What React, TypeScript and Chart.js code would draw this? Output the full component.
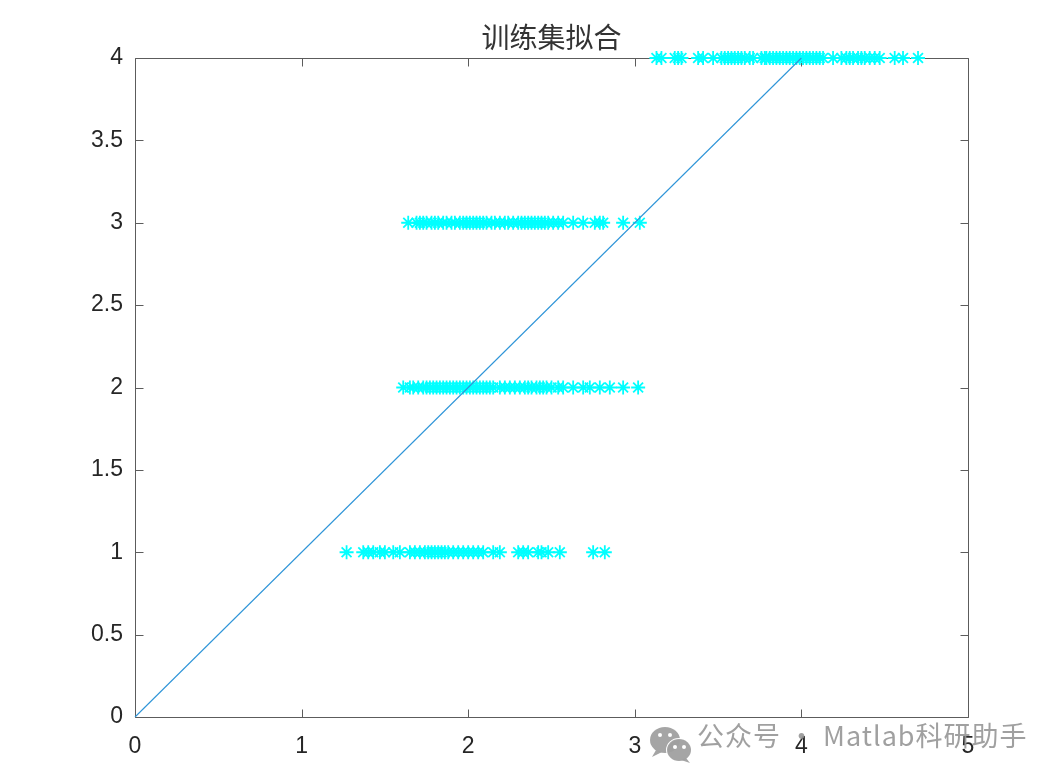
import React, { useEffect, useRef } from "react";
import { Chart, registerables } from "chart.js";

Chart.register(...registerables);

const titleText = "训练集拟合";
const watermarkText = "公众号 · Matlab科研助手";

const xTickValues = [0, 1, 2, 3, 4, 5];
const yTickValues = [0, 0.5, 1, 1.5, 2, 2.5, 3, 3.5, 4];

// fitted reference line y = x
const fitLineX = [0, 4];
const fitLineY = [0, 4];

// true class levels
const classLevels = [1, 2, 3, 4];

// predicted values for each true class
const class1X = [1.27, 1.37, 1.4, 1.43, 1.47, 1.5, 1.55, 1.59, 1.65, 1.68, 1.71, 1.74, 1.76, 1.78, 1.8, 1.82, 1.84, 1.86, 1.88, 1.91, 1.94, 1.97, 2.0, 2.03, 2.06, 2.09, 2.15, 2.19, 2.3, 2.33, 2.36, 2.42, 2.44, 2.48, 2.55, 2.75, 2.82];
const class2X = [1.61, 1.65, 1.67, 1.7, 1.73, 1.75, 1.77, 1.79, 1.81, 1.83, 1.85, 1.87, 1.89, 1.91, 1.93, 1.95, 1.97, 1.99, 2.01, 2.03, 2.05, 2.07, 2.09, 2.11, 2.13, 2.15, 2.19, 2.22, 2.25, 2.28, 2.31, 2.34, 2.36, 2.38, 2.41, 2.43, 2.45, 2.47, 2.5, 2.54, 2.57, 2.63, 2.69, 2.73, 2.79, 2.85, 2.93, 3.02];
const class3X = [1.64, 1.69, 1.71, 1.73, 1.75, 1.78, 1.8, 1.82, 1.85, 1.87, 1.9, 1.92, 1.95, 1.97, 1.99, 2.01, 2.03, 2.05, 2.07, 2.09, 2.11, 2.14, 2.16, 2.19, 2.22, 2.24, 2.27, 2.3, 2.32, 2.34, 2.36, 2.38, 2.4, 2.42, 2.44, 2.46, 2.48, 2.51, 2.54, 2.57, 2.63, 2.69, 2.76, 2.79, 2.81, 2.93, 3.03];
const class4X = [3.13, 3.16, 3.24, 3.26, 3.28, 3.38, 3.41, 3.47, 3.52, 3.54, 3.56, 3.58, 3.6, 3.62, 3.64, 3.66, 3.69, 3.71, 3.76, 3.78, 3.79, 3.81, 3.83, 3.85, 3.87, 3.89, 3.91, 3.93, 3.95, 3.97, 3.99, 4.01, 4.03, 4.05, 4.07, 4.09, 4.11, 4.13, 4.19, 4.24, 4.27, 4.29, 4.31, 4.34, 4.36, 4.38, 4.41, 4.44, 4.47, 4.56, 4.61, 4.7];

const classXs = [class1X, class2X, class3X, class4X];

const AXIS_COLOR = "#5c5c5c";
const TEXT_COLOR = "#262626";
const TICK_FONT = "'Liberation Sans', Arial, sans-serif";

const framePlugin = {
  id: "matlabFrame",
  beforeDatasetsDraw(chart: any) {
    const { ctx, chartArea, scales } = chart;
    const { left, right, top, bottom } = chartArea;
    const L = Math.round(left) + 0.5;
    const R = Math.round(right) + 0.5;
    const T = Math.round(top) + 0.5;
    const B = Math.round(bottom) + 0.5;
    ctx.save();
    ctx.strokeStyle = AXIS_COLOR;
    ctx.lineWidth = 1;
    ctx.beginPath();
    ctx.rect(L, T, R - L, B - T);
    ctx.stroke();
    const tl = 8;
    ctx.beginPath();
    xTickValues.forEach((v) => {
      const px = Math.round(scales.x.getPixelForValue(v)) + 0.5;
      ctx.moveTo(px, B);
      ctx.lineTo(px, B - tl);
      ctx.moveTo(px, T);
      ctx.lineTo(px, T + tl);
    });
    yTickValues.forEach((v) => {
      const py = Math.round(scales.y.getPixelForValue(v)) + 0.5;
      ctx.moveTo(L, py);
      ctx.lineTo(L + tl, py);
      ctx.moveTo(R, py);
      ctx.lineTo(R - tl, py);
    });
    ctx.stroke();
    ctx.restore();
  },
  afterDraw(chart: any) {
    const { ctx, chartArea } = chart;
    ctx.save();
    // title
    ctx.fillStyle = "#333333";
    ctx.font = "28px 'Noto Sans CJK SC', sans-serif";
    ctx.textAlign = "center";
    ctx.textBaseline = "middle";
    ctx.fillText(titleText, (chartArea.left + chartArea.right) / 2, 37);

    // watermark icon
    ctx.fillStyle = "rgba(160,160,160,0.95)";
    ctx.beginPath();
    ctx.ellipse(665, 740, 15, 13, 0, 0, Math.PI * 2);
    ctx.fill();
    ctx.beginPath();
    ctx.moveTo(656, 750);
    ctx.lineTo(652, 757);
    ctx.lineTo(662, 752);
    ctx.fill();
    ctx.strokeStyle = "#ffffff";
    ctx.lineWidth = 2;
    ctx.beginPath();
    ctx.ellipse(679, 750, 12, 11, 0, 0, Math.PI * 2);
    ctx.stroke();
    ctx.fill();
    ctx.beginPath();
    ctx.moveTo(686, 758);
    ctx.lineTo(690, 763);
    ctx.lineTo(681, 760);
    ctx.fill();
    ctx.fillStyle = "#ffffff";
    [[660, 735], [670, 735], [675, 747], [684, 747]].forEach(([cx, cy]) => {
      ctx.beginPath();
      ctx.arc(cx, cy, 2, 0, Math.PI * 2);
      ctx.fill();
    });

    // watermark text
    ctx.fillStyle = "rgba(150,150,150,0.9)";
    ctx.font = "27px 'Noto Sans CJK SC', sans-serif";
    ctx.textAlign = "left";
    ctx.textBaseline = "middle";
    (ctx as any).letterSpacing = "1px";
    ctx.fillText(watermarkText, 697, 736);
    ctx.restore();
  },
};

export default function App() {
  const canvasRef = useRef<HTMLCanvasElement | null>(null);

  useEffect(() => {
    document.body.style.margin = "0";
    const canvas = canvasRef.current;
    if (!canvas) return;

    const scatterSets = classXs.map((xs, i) => ({
      type: "scatter" as const,
      label: `class ${classLevels[i]}`,
      data: xs.map((x) => ({ x, y: classLevels[i] })),
      showLine: false,
      pointStyle: "star" as const,
      pointRadius: 7,
      pointBorderWidth: 1.8,
      pointBorderColor: "#00ffff",
      pointBackgroundColor: "#00ffff",
      borderColor: "#00ffff",
      clip: false as any,
      order: 2,
    }));

    const chart = new Chart(canvas, {
      type: "scatter",
      data: {
        datasets: [
          {
            type: "scatter" as const,
            label: "fit",
            data: fitLineX.map((x, i) => ({ x, y: fitLineY[i] })),
            showLine: true,
            borderColor: "#2f95d8",
            borderWidth: 1.1,
            pointRadius: 0,
            clip: false as any,
            order: 1,
          },
          ...scatterSets,
        ],
      },
      options: {
        animation: false,
        responsive: false,
        devicePixelRatio: 1,
        events: [],
        layout: { padding: { top: 58, right: 90, left: 0, bottom: 0 } },
        plugins: {
          legend: { display: false },
          title: { display: false },
          tooltip: { enabled: false },
        },
        scales: {
          x: {
            type: "linear",
            min: 0,
            max: 5,
            afterFit: (s: any) => {
              s.height = 60;
            },
            afterBuildTicks: (s: any) => {
              s.ticks = xTickValues.map((v) => ({ value: v }));
            },
            grid: { display: false, drawTicks: false },
            border: { display: false },
            ticks: {
              padding: 16,
              color: TEXT_COLOR,
              font: { size: 23, family: TICK_FONT },
              maxRotation: 0,
              callback: (v: any) => String(v),
            },
          },
          y: {
            type: "linear",
            min: 0,
            max: 4,
            afterFit: (s: any) => {
              s.width = 135;
            },
            afterBuildTicks: (s: any) => {
              s.ticks = yTickValues.map((v) => ({ value: v }));
            },
            grid: { display: false, drawTicks: false },
            border: { display: false },
            ticks: {
              padding: 12,
              color: TEXT_COLOR,
              font: { size: 23, family: TICK_FONT },
              callback: (v: any) => String(v),
            },
          },
        },
      },
      plugins: [framePlugin],
    } as any);

    return () => chart.destroy();
  }, []);

  return (
    <div style={{ position: "absolute", left: 0, top: 0, width: 1058, height: 777, background: "#ffffff" }}>
      <canvas ref={canvasRef} width={1058} height={777} />
    </div>
  );
}
